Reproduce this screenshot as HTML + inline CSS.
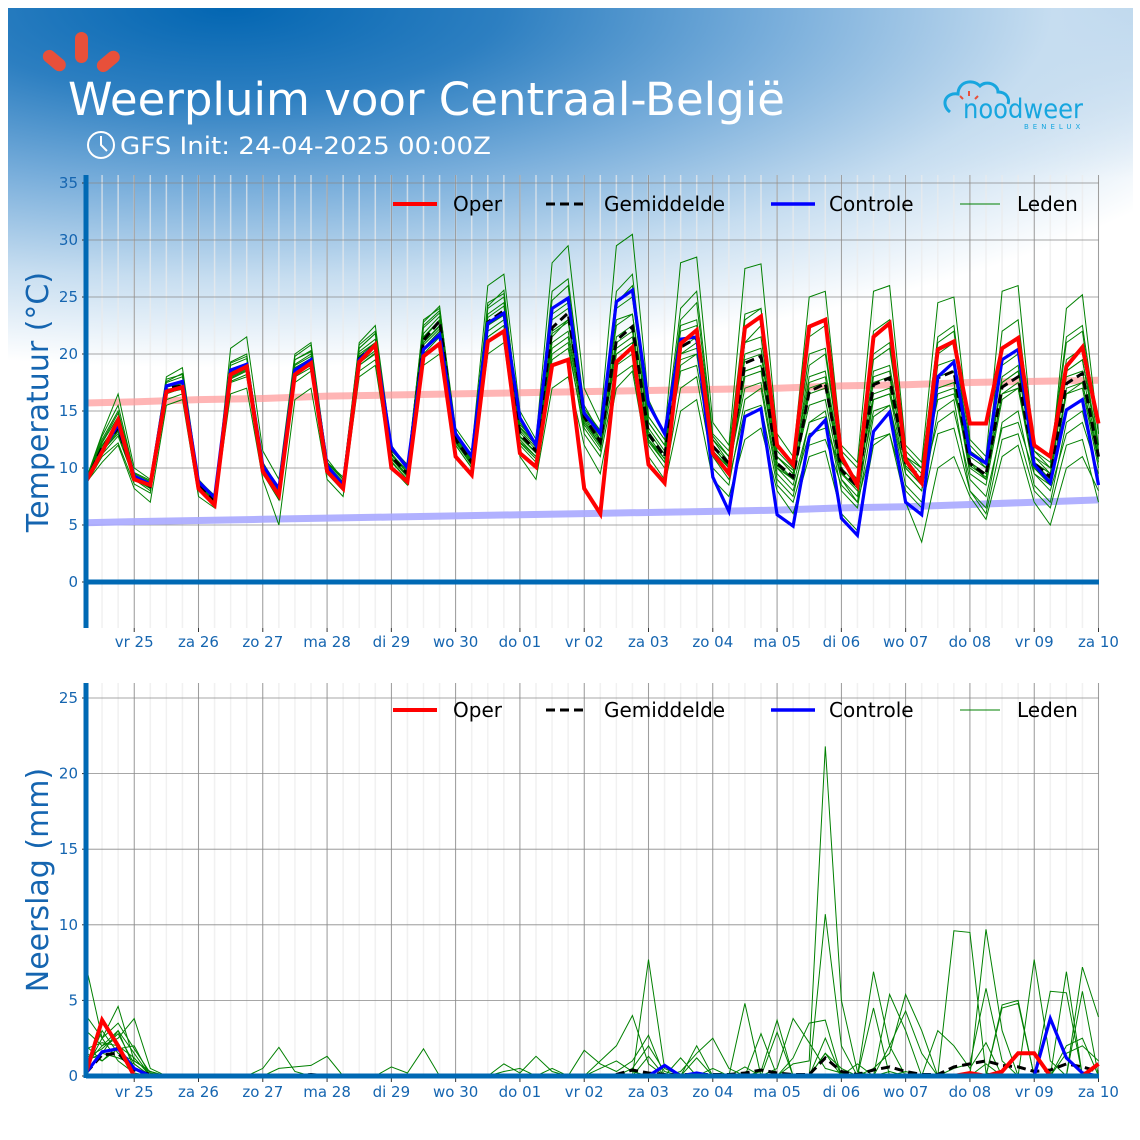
<!DOCTYPE html>
<html><head><meta charset="utf-8">
<style>
html,body{margin:0;padding:0;background:#fff;}
#wrap{position:relative;width:1140px;height:1140px;overflow:hidden;background:#fff;font-family:"DejaVu Sans","Liberation Sans",sans-serif;}
#bg{position:absolute;left:8px;top:8px;width:1125px;height:430px;
background:radial-gradient(ellipse 1100px 360px at 220px 0px,#0366b2 0%,#2d7fc1 25%,#79aedb 50%,#c6ddf0 75%,rgba(255,255,255,0) 100%),
linear-gradient(180deg,rgba(160,196,228,0.8) 0px,rgba(255,255,255,0) 170px);}
svg{position:absolute;left:0;top:0;}
</style></head><body>
<div id="wrap">
<div id="bg"></div>
<svg id="chart" width="1140" height="1140" viewBox="0 0 1140 1140">
  <g>
    <rect x="75" y="32" width="13" height="31" rx="6.5" fill="#e8503a"/>
    <rect x="48" y="48" width="13" height="26" rx="6.5" fill="#e8503a" transform="rotate(-50 54 61)"/>
    <rect x="102" y="48" width="13" height="26" rx="6.5" fill="#e8503a" transform="rotate(50 108 61)"/>
  </g>
  <text x="68" y="115" fill="#fff" font-size="45" textLength="717" lengthAdjust="spacingAndGlyphs">Weerpluim voor  Centraal-België</text>
  <g fill="none" stroke="#fff" stroke-width="2">
    <circle cx="101" cy="145" r="13"/><path d="M101 136 V145 L107 151"/>
  </g>
  <text x="120" y="154" fill="#fff" font-size="24" textLength="371" lengthAdjust="spacingAndGlyphs">GFS Init: 24-04-2025 00:00Z</text>
  <g>
    <path d="M950 112 C940 104 946 92 958 94 C958 82 972 78 980 86 C986 80 998 84 998 92 C1006 92 1010 98 1008 104" fill="none" stroke="#17a6df" stroke-width="3"/>
    <path d="M969 96 v-5 M963 99 l-3 -3 M975 99 l3 -3" stroke="#e8503a" stroke-width="2"/>
    <text x="963" y="118" fill="#17a6df" font-size="27" textLength="120" lengthAdjust="spacingAndGlyphs">noodweer</text>
    <text x="1024" y="129" fill="#17a6df" font-size="7" letter-spacing="4">BENELUX</text>
  </g>
  <g id="temp"></g>
  <g id="prec"></g>
</svg>
</div>
<script>
const dayLabels=["vr 25","za 26","zo 27","ma 28","di 29","wo 30","do 01","vr 02","za 03","zo 04","ma 05","di 06","wo 07","do 08","vr 09","za 10"];
const tempTicks=[0,5,10,15,20,25,30,35];
const precTicks=[0,5,10,15,20,25];
const tempOper=[8.8,11.4,14.2, 9.0,8.5,16.7,17.1, 8.2,6.75,18.2,18.9, 9.7,7.6,18.2,19.2, 9.7,8.2,19.3,20.8, 10.0,8.8,19.8,20.9, 11.0,9.4,21.1,22.0, 11.3,10.1,19.0,19.5, 8.2,6.0,19.3,20.6, 10.3,8.7,20.9,22.1, 11.3,9.5,22.3,23.3, 12.0,10.3,22.4,23.0, 11.0,8.5,21.5,22.7, 10.7,8.7,20.4,21.1, 13.9,13.9,20.5,21.4, 12.0,11.0,18.9,20.6, 13.9];
const tempCtrl=[8.8,11.5,13.8, 9.3,8.6,17.2,17.6, 8.8,7.4,18.6,19.1, 10.2,8.2,18.6,19.5, 10.2,8.5,19.5,20.8, 11.8,10.0,20.4,21.7, 13.0,11.0,22.7,23.6, 14.4,12.0,24.0,24.9, 14.8,13.0,24.6,25.6, 15.6,13.0,21.3,21.5, 9.2,6.2,14.5,15.2, 5.9,4.9,12.7,14.2, 5.6,4.1,13.2,14.9, 7.0,5.9,18.0,19.3, 11.3,10.4,19.5,20.4, 10.3,8.7,15.1,16.0, 8.5];
const tempMean=[8.8,11.8,13.5, 9.2,8.4,17.0,17.2, 8.5,7.2,18.2,18.9, 10.0,7.8,18.6,19.5, 10.0,8.5,19.6,20.8, 11.0,9.5,21.2,22.9, 12.5,10.5,22.8,23.8, 13.0,11.5,22.3,23.6, 14.5,12.3,21.2,22.4, 13.0,11.0,20.6,21.4, 11.9,10.4,19.2,19.8, 10.4,9.2,16.7,17.4, 9.8,8.4,17.3,17.9, 10.4,9.1,17.9,18.5, 10.4,9.4,17.1,18.0, 10.4,9.2,17.4,18.3, 11.0];
const climMax=[15.7,15.8,16.0,16.1,16.3,16.4,16.5,16.6,16.7,16.8,16.9,17.0,17.2,17.3,17.5,17.6,17.7];
const climMin=[5.2,5.3,5.4,5.5,5.6,5.7,5.8,5.9,6.0,6.1,6.2,6.3,6.5,6.6,6.8,7.0,7.2];
const tm1=[8.9,12.5,15.0, 9.5,8.8,17.8,18.2, 9.0,7.5,19.0,19.6, 10.5,8.2,19.5,20.2, 10.8,9.0,20.5,21.8, 11.5,10.0,22.3,23.6, 13.2,11.0,24.5,25.3, 14.0,12.0,25.5,26.6, 15.5,13.0,24.0,25.0, 14.0,12.0,23.0,24.5, 12.5,11.0,21.0,22.5, 11.0,9.5,19.0,20.0, 10.5,9.0,19.5,20.5, 11.0,10.0,20.0,21.0, 11.5,10.0,19.0,20.0, 11.0,9.5,18.5,19.5, 12.0];
const tm2=[8.6,11.0,12.2, 8.6,7.8,16.0,16.5, 8.0,6.7,17.5,18.0, 9.5,7.2,17.5,18.5, 9.5,8.0,18.5,19.5, 10.5,9.0,20.0,21.5, 12.0,10.0,21.0,22.0, 12.0,10.5,20.0,21.0, 13.0,11.0,18.0,19.0, 11.0,9.0,17.0,18.0, 10.0,8.5,16.0,17.0, 9.0,7.5,14.0,15.0, 8.0,6.5,14.5,15.5, 8.5,7.0,15.0,16.0, 8.0,6.5,14.0,15.0, 8.5,7.0,14.0,15.0, 9.0];
const tm3=[9.0,13.0,16.5, 10.0,9.0,18.0,18.8, 9.0,7.0,20.5,21.5, 11.5,9.0,20.0,21.0, 10.5,9.0,21.0,22.5, 12.0,10.0,23.0,24.0, 13.5,11.5,26.0,27.0, 15.0,12.5,28.0,29.5, 17.0,14.0,29.5,30.5, 16.0,13.0,28.0,28.5, 14.0,12.0,27.5,27.9, 13.0,11.0,25.0,25.5, 12.0,10.5,25.5,26.0, 12.0,10.5,24.5,25.0, 12.5,11.0,25.5,26.0, 11.5,10.0,24.0,25.2, 13.0];
const tm4=[8.7,10.5,12.0, 8.2,7.0,15.5,16.0, 7.5,6.5,16.5,17.0, 9.0,5.0,16.0,17.0, 9.0,7.5,18.0,19.0, 10.0,8.5,19.0,20.0, 11.0,9.5,20.0,21.0, 11.0,9.0,17.0,18.0, 12.0,9.5,17.0,18.5, 10.5,8.5,15.0,16.0, 9.0,7.5,12.5,13.5, 8.0,6.0,11.0,11.5, 6.0,4.5,12.0,13.0, 7.0,3.5,10.0,11.0, 7.5,5.5,11.0,12.0, 7.0,5.0,10.0,11.0, 8.0];
const tm5=[8.8,12.0,14.0, 9.0,8.5,17.2,17.6, 8.8,7.4,18.5,19.2, 10.2,8.0,19.0,19.8, 10.2,8.6,20.0,21.0, 11.3,9.6,21.5,23.0, 12.8,10.8,23.5,24.5, 13.5,12.0,23.5,24.5, 15.0,12.5,22.5,23.5, 13.5,11.5,22.0,22.5, 12.5,10.5,21.0,21.5, 11.0,9.5,15.5,16.0, 9.0,7.0,16.0,16.5, 9.5,8.0,17.0,17.5, 9.5,8.5,16.0,17.0, 10.0,8.5,16.5,17.0, 10.0];
const tm6=[8.9,11.5,13.0, 9.3,8.3,16.5,17.0, 8.4,7.0,18.0,18.7, 9.8,7.6,18.3,19.0, 9.7,8.2,19.2,20.3, 10.8,9.2,20.8,22.2, 12.3,10.2,22.0,23.0, 12.5,11.0,21.5,23.0, 14.0,12.0,20.0,21.0, 12.0,10.0,19.0,20.0, 11.0,9.5,18.0,18.5, 10.0,8.5,14.0,14.5, 9.0,7.5,18.0,18.5, 10.0,8.5,19.0,19.5, 10.5,9.0,18.0,19.0, 10.5,9.0,18.5,19.5, 11.5];
const tm7=[8.7,12.2,14.5, 9.4,8.6,17.3,17.5, 8.6,7.3,18.4,19.0, 10.1,8.0,19.1,20.0, 10.3,8.8,20.2,21.3, 11.2,9.8,21.8,23.3, 12.7,10.7,23.2,24.2, 13.3,11.8,23.0,24.0, 14.8,12.8,25.5,27.0, 14.5,12.5,21.0,22.0, 12.0,10.0,23.0,24.0, 11.5,10.0,20.0,20.5, 10.5,9.0,16.0,16.5, 11.0,10.0,21.0,22.0, 11.0,10.0,22.0,23.0, 11.5,10.5,21.0,22.0, 12.0];
const tm8=[8.8,11.2,12.8, 9.0,8.0,16.8,17.0, 8.2,7.0,17.8,18.5, 9.6,7.2,18.0,18.8, 9.8,8.4,19.0,20.0, 10.8,9.3,20.5,22.0, 12.2,10.3,21.5,22.5, 12.3,11.0,19.5,20.5, 13.5,11.5,19.0,20.0, 12.5,10.5,19.5,20.0, 11.5,10.0,17.0,17.5, 9.5,8.0,13.0,13.5, 10.0,8.5,20.0,21.0, 10.0,8.5,14.0,15.0, 9.0,7.5,13.5,14.0, 9.5,8.0,13.0,14.0, 9.5];
const tm9=[8.9,12.8,15.5, 9.6,8.9,17.5,18.0, 8.9,7.6,19.2,19.8, 10.4,8.3,19.5,20.3, 10.5,9.2,20.8,22.0, 11.8,10.3,22.5,23.8, 13.0,11.2,24.0,25.0, 13.8,12.3,24.0,25.0, 15.2,13.3,23.0,23.5, 14.0,12.0,22.5,23.0, 12.8,11.0,20.0,20.5, 11.0,9.8,18.0,18.5, 10.5,9.0,18.5,19.0, 11.0,9.5,16.0,16.5, 11.5,10.5,17.5,18.5, 11.0,10.0,19.5,20.5, 11.5];
const tm10=[8.6,11.4,13.2, 9.1,8.2,16.9,17.1, 8.3,6.9,17.9,18.6, 9.9,7.7,18.8,19.6, 9.9,8.5,19.5,20.6, 10.9,9.4,21.0,22.5, 12.4,10.4,22.5,23.5, 12.7,11.3,21.0,22.0, 14.2,12.0,21.5,22.5, 12.5,10.8,20.0,20.5, 11.5,10.0,18.5,19.0, 10.0,9.0,16.5,17.0, 9.5,8.0,15.0,15.5, 9.5,8.0,16.5,17.0, 10.0,9.0,16.5,17.0, 9.5,8.5,17.0,17.5, 10.5];
const tm11=[8.8,11.9,13.8, 9.2,8.4,17.1,17.4, 8.5,7.2,18.3,19.0, 10.0,7.9,18.7,19.4, 10.1,8.7,19.8,21.0, 11.1,9.6,21.4,22.9, 12.6,10.6,22.7,23.6, 13.1,11.6,22.0,23.0, 14.6,12.4,20.5,21.5, 13.2,11.2,20.5,21.5, 12.0,10.5,19.5,20.0, 10.5,9.0,17.5,18.0, 10.0,8.5,17.5,18.0, 10.5,9.0,18.0,18.5, 10.5,9.5,17.5,18.5, 10.5,9.5,18.0,18.5, 11.0];
const tm12=[8.7,11.6,13.3, 9.0,8.2,16.6,16.9, 8.2,6.8,17.6,18.2, 9.7,7.5,18.2,19.0, 9.6,8.1,19.0,20.1, 10.6,9.0,20.5,22.0, 12.0,10.0,21.5,22.5, 12.2,10.8,20.5,21.5, 13.8,11.8,20.0,21.0, 12.3,10.5,18.5,19.0, 11.0,9.0,15.0,15.5, 8.5,7.0,12.0,12.5, 8.5,7.0,12.5,13.0, 8.0,6.5,13.0,13.5, 8.0,6.0,12.5,13.0, 8.0,6.5,12.0,12.5, 7.0];
const tm13=[8.9,12.3,14.8, 9.3,8.7,17.6,18.3, 8.7,7.5,19.3,20.0, 10.3,8.1,19.8,20.8, 10.4,9.0,20.5,21.8, 11.6,10.1,22.8,24.2, 13.0,11.0,24.2,25.6, 13.6,12.2,24.7,26.0, 15.0,13.2,24.5,26.0, 14.5,12.5,24.0,25.5, 13.0,11.5,23.5,24.0, 12.0,10.5,21.5,22.5, 11.5,10.0,22.0,23.0, 11.5,10.0,21.5,22.5, 12.0,10.5,20.5,21.5, 12.0,11.0,21.5,22.5, 13.0];
const tm14=[8.8,11.7,13.6, 9.2,8.3,16.8,17.2, 8.4,7.1,18.1,18.8, 9.9,7.8,18.5,19.3, 9.9,8.4,19.4,20.6, 10.9,9.4,21.0,22.4, 12.4,10.5,22.5,23.4, 12.8,11.4,21.8,22.8, 14.4,12.2,21.0,22.0, 12.8,10.8,20.0,21.0, 11.8,10.2,18.5,19.0, 10.2,9.0,17.0,17.5, 9.6,8.2,16.5,17.0, 10.2,8.8,17.0,17.5, 10.2,9.2,16.5,17.5, 10.0,8.8,16.5,17.5, 10.8];
const tempMembers=[tm1,tm2,tm3,tm4,tm5,tm6,tm7,tm8,tm9,tm10,tm11,tm12,tm13,tm14];

const precOper=[0.2,3.7,2.0,0,0,0,0,0, 0,0,0,0,0,0,0,0, 0,0,0,0,0,0,0,0, 0,0,0,0,0,0,0,0, 0,0,0,0,0,0,0,0, 0,0,0,0,0,0,0,0, 0,0,0,0,0,0,0,0.2, 0,0.3,1.5,1.5,0,0,0,0.8];
const precCtrl=[0.2,1.6,1.8,0.5,0,0,0,0, 0,0,0,0,0,0,0,0, 0,0,0,0,0,0,0,0, 0,0,0,0,0,0,0,0, 0,0,0,0,0.7,0,0.2,0, 0,0,0,0,0,0,0,0, 0,0,0,0,0,0,0,0, 0,0,0,0,3.8,1.2,0.2,0];
const precMean=[0.2,1.4,1.5,0.4,0.1,0,0,0, 0,0,0,0,0,0,0.1,0, 0,0,0,0,0,0,0,0, 0,0,0,0,0,0,0,0, 0,0.1,0.4,0.2,0.1,0.1,0.1,0.1, 0.1,0.2,0.4,0.2,0.1,0.1,1.2,0.3, 0.1,0.4,0.6,0.3,0.1,0.1,0.6,0.8, 1.0,0.7,0.6,0.3,0.4,0.8,0.6,0.3];
const pm1=[7.3,2.5,1.0,0.2,0,0,0,0, 0,0,0,0,0,0,0,0, 0,0,0,0,0,0,0,0, 0,0,0,0,0,0,0,0, 0,0,0,7.7,0.5,0,0,0, 0,0,0,0,0.8,1.0,21.8,5.0, 0.3,0,0,0,0,0,0,0.2, 0,0,0,0,0,0,0,0];
const pm2=[4.0,2.5,4.6,1.0,0.3,0,0,0, 0,0,0,0.5,1.9,0.3,0,0, 0,0,0,0,0,0,0,0, 0,0,0,0,0,0,0,0, 0,0,0.5,2.0,0.3,0,0,0.5, 0,0,0.3,3.7,0,0,10.7,2.0, 0,0,0,0.3,0,0,9.6,9.5, 0.2,0,0,0,0,0,0,0];
const pm3=[3.0,2.0,2.5,3.8,0.5,0,0,0, 0,0,0,0,0.5,0.6,0.7,1.3, 0,0,0,0,0,0,0,0, 0,0,0,0,0,0,0,0, 1.0,2.0,4.0,0.8,0,0.3,1.5,2.5, 0.5,0,0,0,0,0,0,0, 0,6.9,2.0,0,0,0,0,0, 9.7,3.0,0,0,0,0,0,0];
const pm4=[0.5,2.5,3.5,1.8,0.2,0,0,0, 0,0,0,0,0,0,0,0, 0,0,0,0,0,0,0,0, 0,0,0,0,0,0,0,0, 0,0,0,0,0,0,0,0, 0,0,0,0,0,0,0,0, 0,0.5,1.5,5.4,3.0,0,0,0, 0,4.5,4.8,0,5.6,5.5,0,0];
const pm5=[1.0,1.5,3.0,0.5,0,0,0,0, 0,0,0,0,0,0,0,0, 0,0,0,0,0,0,0,0, 0,0,0,0,0,0,0,0, 0,0,0,0,0,0,2.0,0, 0,4.8,0,0.5,3.8,2.2,0.5,0.2, 0,0,0,0,0,0,0,0, 0,0,0,0,0,6.9,0,0];
const pm6=[2.0,1.0,2.0,0.5,0,0,0,0, 0,0,0,0,0,0,0,0, 0,0,0,0,0,0,0,0, 0,0,0.3,0.5,0,0.5,0,0, 0,0,0,0,0,0,0,0, 0,0,0,0,0,0,0,0, 0,0,0.3,0,0,0,0,0, 0,0,0,0,0,0,0,0];
const pm7=[0.5,3.0,1.5,1.0,0.3,0,0,0, 0,0,0,0,0,0,0,0, 0,0,0,0,0,0,0,0, 0,0,0.8,0.2,1.3,0.3,0,1.7, 0.8,0.3,1.0,2.7,0,1.2,0,0, 0,0.6,0,0,1.2,3.5,3.7,0, 0,0,0,0,0,0,0,0, 0,0,0,0,0,0,0,0];
const pm8=[1.5,1.0,1.8,2.0,0,0,0,0, 0,0,0,0,0,0,0,0, 0,0,0,0.6,0.2,1.8,0,0, 0,0,0,0,0,0,0,0, 0.5,1.0,0.3,0,0,0,1.2,0, 0,0,0,0,0,0,1.5,0, 0.8,0,5.4,3.0,0,0,0,0, 0,0,0,7.7,1.0,0,0,0];
const pm9=[1.0,1.5,1.2,0.8,0,0,0,0, 0,0,0,0,0,0,0,0, 0,0,0,0,0,0,0,0, 0,0,0,0,0,0,0,0, 0,0,0,1.3,0,0,0,0, 0,0,2.8,0,0,0,2.5,0, 0,4.5,0,0,0,3.0,2.0,0.5, 2.2,0,0,0,0,0,7.2,3.9];
const pm10=[1.2,1.8,2.8,0.8,0,0,0,0, 0,0,0,0,0,0,0,0, 0,0,0,0,0,0,0,0, 0,0,0,0,0,0,0,0, 0,0,0,0,0,0,0,0, 0,0,0,2.9,0,0,1.5,0.5, 0,0,0,0,0,0,0.5,0.8, 5.8,1.0,0,0,0,0,5.6,0];
const pm11=[0.8,2.0,3.0,1.5,0,0,0,0, 0,0,0,0,0,0,0,0, 0,0,0,0,0,0,0,0, 0,0,0,0,0,0,0,0, 0,0,0,0,0,0,0,0, 0,0,0,0,0,0,0,0, 0,0,0,0,0,0,0,0, 0,4.7,5.0,0,0,2.0,2.5,0];
const pm12=[1.8,2.2,2.0,1.2,0,0,0,0, 0,0,0,0,0,0,0,0, 0,0,0,0,0,0,0,0, 0,0,0,0,0,0,0,0, 0,0,0,0,0,0,0,0, 0,0,0,0,0,0,0,0, 0,0,2.0,4.3,1.5,0,0,0, 0.8,0,0,0,0,1.5,2.0,1.0];
const precMembers=[pm1,pm2,pm3,pm4,pm5,pm6,pm7,pm8,pm9,pm10,pm11,pm12];

const NS="http://www.w3.org/2000/svg";
const X0=86,X1=1098.5,NPTS=64;
function xs(i){return X0+i*(X1-X0)/(NPTS-1);}
function el(tag,attrs,parent){const e=document.createElementNS(NS,tag);for(const k in attrs)e.setAttribute(k,attrs[k]);parent.appendChild(e);return e;}
const BLUE="#1565b0";

function buildPanel(g,cfg){
  const ys=v=>cfg.zeroY-v*cfg.pxPer;
  for(let i=0;i<NPTS;i++){
    const l=el('line',{x1:xs(i),x2:xs(i),y1:cfg.top,y2:cfg.bottom,stroke:'#ebebeb','stroke-opacity':0.7,'stroke-width':1.5},g);
    
    
  }
  dayLabels.forEach((lab,k)=>{
    const i=3+4*k,x=xs(i);
    const l=el('line',{x1:x,x2:x,y1:cfg.top,y2:cfg.bottom,stroke:'#8a8a8a','stroke-width':0.8},g);
    
    
    el('line',{x1:x,x2:x,y1:cfg.bottom,y2:cfg.bottom+4,stroke:'#333','stroke-width':1},g);
    const t=el('text',{x:x,y:cfg.bottom+19,'text-anchor':'middle','font-size':15,fill:BLUE},g);
    t.textContent=lab;
    
    
  });
  cfg.ticks.forEach(v=>{
    const y=ys(v);
    const l=el('line',{x1:X0,x2:1099,y1:y,y2:y,stroke:'#8a8a8a','stroke-width':0.8},g);
    
    
    el('line',{x1:X0-4,x2:X0,y1:y,y2:y,stroke:'#333','stroke-width':1},g);
    const t=el('text',{x:X0-8,y:y+5,'text-anchor':'end','font-size':15,fill:BLUE},g);
    t.textContent=v;
    
    
  });
  const pts=arr=>arr.map((v,i)=>xs(i).toFixed(1)+','+ys(v).toFixed(1)).join(' ');
  if(cfg.climMax){
    const dayIdx=climMaxIdx();
    const p1=el('polyline',{points:cfg.climMax.map((v,k)=>xs(dayIdx[k])+','+ys(v)).join(' '),fill:'none',stroke:'#ff9c9c','stroke-opacity':0.75,'stroke-width':7},g);
    
    
    const p2=el('polyline',{points:cfg.climMin.map((v,k)=>xs(dayIdx[k])+','+ys(v)).join(' '),fill:'none',stroke:'#a8a8ff','stroke-opacity':0.9,'stroke-width':7},g);
    
    
  }
  cfg.members.forEach(m=>{
    const p=el('polyline',{points:pts(m),fill:'none',stroke:'#008000','stroke-width':1},g);
    
    
  });
  const pm=el('polyline',{points:pts(cfg.mean),fill:'none',stroke:'#000','stroke-width':3,'stroke-dasharray':'9,5'},g);
  
  
  const pc=el('polyline',{points:pts(cfg.ctrl),fill:'none',stroke:'#0000ff','stroke-width':3.2},g);
  
  
  const po=el('polyline',{points:pts(cfg.oper),fill:'none',stroke:'#ff0000','stroke-width':4},g);
  
  
  const sp=el('line',{x1:X0,x2:X0,y1:cfg.top,y2:cfg.bottom,stroke:'#0069b4','stroke-width':5},g);
  
  
  const zl=el('line',{x1:X0,x2:1099,y1:cfg.zeroY,y2:cfg.zeroY,stroke:'#0069b4','stroke-width':5},g);
  
  
  const yt=el('text',{x:0,y:0,'text-anchor':'middle','font-size':30,fill:BLUE,transform:`translate(48,${cfg.titleY}) rotate(-90)`},g);
  yt.textContent=cfg.title;
  
  
  const ly=cfg.legendY;
  const items=[
    {x1:393,x2:437,c:'#ff0000',w:4,d:null,tx:453,t:'Oper'},
    {x1:546,x2:588,c:'#000',w:3,d:'9,5',tx:604,t:'Gemiddelde'},
    {x1:771,x2:815,c:'#0000ff',w:3.5,d:null,tx:829,t:'Controle'},
    {x1:960,x2:1000,c:'#008000',w:1,d:null,tx:1017,t:'Leden'}];
  items.forEach(it=>{
    const a={x1:it.x1,x2:it.x2,y1:ly,y2:ly,stroke:it.c,'stroke-width':it.w};
    if(it.d)a['stroke-dasharray']=it.d;
    const ln=el('line',a,g);
    
    
    const t=el('text',{x:it.tx,y:ly+7,'font-size':20,fill:'#000'},g);
    t.textContent=it.t;
    
    
  });
}
function climMaxIdx(){const r=[0];for(let k=0;k<16;k++)r.push(3+4*k);return r;}

buildPanel(document.getElementById('temp'),{zeroY:582,pxPer:11.4,top:175,bottom:628,ticks:tempTicks,
  members:tempMembers,mean:tempMean,ctrl:tempCtrl,oper:tempOper,climMax:climMax,climMin:climMin,
  title:'Temperatuur (°C)',titleY:402,legendY:204});
buildPanel(document.getElementById('prec'),{zeroY:1076,pxPer:15.12,top:683,bottom:1078,ticks:precTicks,
  members:precMembers,mean:precMean,ctrl:precCtrl,oper:precOper,
  title:'Neerslag (mm)',titleY:880,legendY:710});
</script>
</body></html>
